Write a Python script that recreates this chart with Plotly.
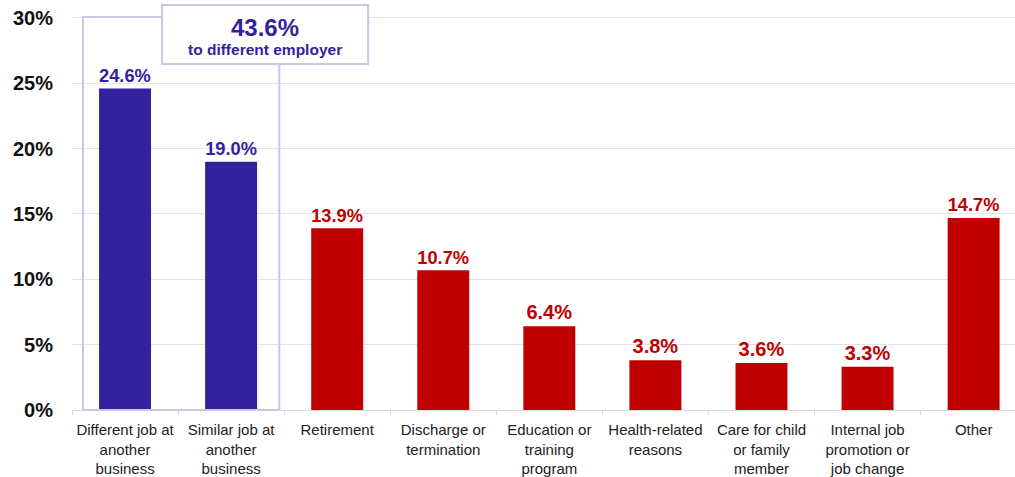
import plotly.graph_objects as go

categories = [
    "Different job at<br>another<br>business",
    "Similar job at<br>another<br>business",
    "Retirement",
    "Discharge or<br>termination",
    "Education or<br>training<br>program",
    "Health-related<br>reasons",
    "Care for child<br>or family<br>member",
    "Internal job<br>promotion or<br>job change",
    "Other",
]
values = [24.6, 19.0, 13.9, 10.7, 6.4, 3.8, 3.6, 3.3, 14.7]
group_total = 43.6

BLUE = "#3322a0"
RED = "#c00000"
BOX = "#cac6e3"
colors = [BLUE, BLUE] + [RED] * 7
FONT = "Arial, Liberation Sans, sans-serif"

fig = go.Figure()
fig.add_trace(go.Bar(
    x=list(range(len(categories))),
    y=values,
    width=0.49,
    marker=dict(color=colors, line=dict(width=0)),
    text=[f"<b>{v:.1f}%</b>" for v in values],
    textposition="outside",
    textfont=dict(family=FONT, size=20, color=colors),
    cliponaxis=False,
))

# box around the two "different employer" bars (paper coords so it is not clipped)
fig.add_shape(type="rect", xref="paper", yref="paper", x0=0.0116, x1=0.2198, y0=0, y1=0.9925,
              line=dict(color=BOX, width=2), fillcolor="rgba(0,0,0,0)", layer="above")
fig.add_shape(type="rect", xref="paper", yref="paper", x0=0.0954, x1=0.3140, y0=0.874, y1=1.0226,
              line=dict(color=BOX, width=2), fillcolor="white", layer="above")
fig.add_annotation(x=0.2046, y=0.967, xref="paper", yref="paper", showarrow=False,
                   xanchor="center", yanchor="middle",
                   text=f"<b>{group_total:.1f}%</b>",
                   font=dict(family=FONT, size=24, color=BLUE))
fig.add_annotation(x=0.2046, y=0.9095, xref="paper", yref="paper", showarrow=False,
                   xanchor="center", yanchor="middle",
                   text="<b>to different employer</b>",
                   font=dict(family=FONT, size=15.5, color=BLUE))

fig.update_layout(
    width=1015, height=477,
    margin=dict(l=72, r=0, t=14, b=65),
    plot_bgcolor="white", paper_bgcolor="white",
    showlegend=False,
    font=dict(family=FONT),
)
fig.update_xaxes(
    range=[-0.5, 8.39],
    tickmode="array", tickvals=list(range(len(categories))), ticktext=categories,
    tickfont=dict(size=15, color="#222222"),
    ticklabelstandoff=6,
    showline=True, linecolor="#d9d9d9", linewidth=1,
    ticks="", showgrid=False, zeroline=False,
    minor=dict(tick0=0.5, dtick=1, ticks="outside", ticklen=4, tickcolor="#d9d9d9", showgrid=False),
)
fig.update_yaxes(
    range=[0, 30.3], tickvals=[0, 5, 10, 15, 20, 25, 30],
    ticktext=["<b>0%</b>", "<b>5%</b>", "<b>10%</b>", "<b>15%</b>", "<b>20%</b>", "<b>25%</b>", "<b>30%</b>"],
    tickfont=dict(size=20, color="#111111"),
    ticklabelstandoff=18,
    showgrid=True, gridcolor="#e3e3e3", gridwidth=1, zeroline=False,
)

fig.write_html("out.html", config={"displayModeBar": False},
               post_script="document.body.style.margin='0';")
